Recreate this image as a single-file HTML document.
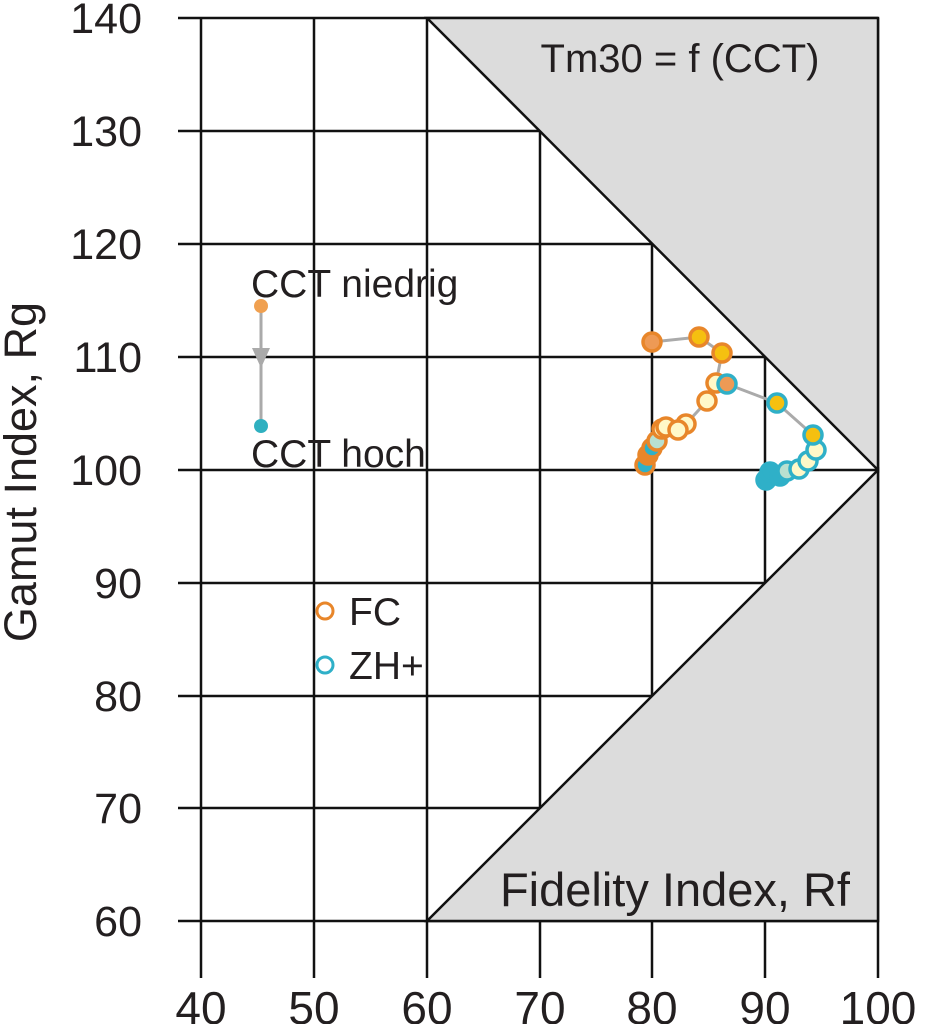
<!DOCTYPE html>
<html><head><style>body{margin:0;background:#fff}svg{display:block}text{font-family:"Liberation Sans",sans-serif;fill:#231f20}</style></head>
<body>
<svg width="930" height="1024" viewBox="0 0 930 1024">
<g stroke="#111" stroke-width="2.5">
<line x1="178" y1="18" x2="878" y2="18"/><line x1="178" y1="131" x2="878" y2="131"/><line x1="178" y1="244" x2="878" y2="244"/><line x1="178" y1="357" x2="878" y2="357"/><line x1="178" y1="470" x2="878" y2="470"/><line x1="178" y1="583" x2="878" y2="583"/><line x1="178" y1="696" x2="878" y2="696"/><line x1="178" y1="808" x2="878" y2="808"/><line x1="178" y1="921" x2="878" y2="921"/>
<line x1="201" y1="18" x2="201" y2="978"/><line x1="314" y1="18" x2="314" y2="978"/><line x1="427" y1="18" x2="427" y2="978"/><line x1="540" y1="18" x2="540" y2="978"/><line x1="652" y1="18" x2="652" y2="978"/><line x1="765" y1="18" x2="765" y2="978"/><line x1="878" y1="18" x2="878" y2="978"/>
</g>
<polygon points="427,18 878,18 878,470" fill="#dcdcdc" stroke="#111" stroke-width="2.5"/>
<polygon points="427,921 878,921 878,470" fill="#dcdcdc" stroke="#111" stroke-width="2.5"/>
<text x="680" y="72" font-size="40" text-anchor="middle">Tm30 = f (CCT)</text>
<text x="850" y="906" font-size="47" text-anchor="end">Fidelity Index, Rf</text>
<g font-size="43" text-anchor="end">
<text x="142" y="33">140</text><text x="142" y="146">130</text><text x="142" y="259">120</text><text x="142" y="372">110</text><text x="142" y="485">100</text><text x="142" y="598">90</text><text x="142" y="711">80</text><text x="142" y="823">70</text><text x="142" y="936">60</text>
</g>
<g font-size="46" text-anchor="middle">
<text x="201" y="1024">40</text><text x="314" y="1024">50</text><text x="427" y="1024">60</text><text x="540" y="1024">70</text><text x="652" y="1024">80</text><text x="765" y="1024">90</text><text x="878" y="1024">100</text>
</g>
<text transform="translate(36,472) rotate(-90)" font-size="45" text-anchor="middle">Gamut Index, Rg</text>
<text x="251" y="297" font-size="39">CCT niedrig</text>
<text x="251" y="467" font-size="39">CCT hoch</text>
<line x1="261" y1="306" x2="261" y2="426" stroke="#aaa" stroke-width="3"/>
<polygon points="252,348 270,348 261,368" fill="#aaa"/>
<circle cx="261" cy="306" r="7" fill="#f0a050"/>
<circle cx="261" cy="426" r="7" fill="#2fb0c0"/>
<circle cx="325" cy="611" r="8" fill="#fff" stroke="#e8862a" stroke-width="3"/>
<text x="349" y="625" font-size="39">FC</text>
<circle cx="325" cy="665" r="8" fill="#fff" stroke="#2fb0c8" stroke-width="3"/>
<text x="349" y="679" font-size="39">ZH+</text>
<polyline points="652,342 699,337 722,353 716,383 707,401 686,424 678,430 662,427 657,441 652,452 648,459 645,465" fill="none" stroke="#aaa" stroke-width="3"/>
<polyline points="727,384 777,403 813,435 816,450 812,459 804,469 787,471 772,477 766,474 764,483" fill="none" stroke="#aaa" stroke-width="3"/>
<g stroke-width="3.5">
<circle cx="645" cy="465" r="9" fill="#2fb0c8" stroke="#e8862a"/>
<circle cx="648" cy="455" r="9" fill="#e8862a" stroke="#e8862a"/>
<circle cx="652" cy="448" r="9" fill="#2fb0c8" stroke="#e8862a"/>
<circle cx="657" cy="441" r="9" fill="#b8e0d0" stroke="#e8862a"/>
<circle cx="662" cy="429" r="9" fill="#fff8c8" stroke="#e8862a"/>
<circle cx="666" cy="427" r="9" fill="#fff8c8" stroke="#e8862a"/>
<circle cx="686" cy="424" r="9" fill="#fff8c8" stroke="#e8862a"/>
<circle cx="678" cy="430" r="9" fill="#fff8c8" stroke="#e8862a"/>
<circle cx="707" cy="401" r="9" fill="#fff8c8" stroke="#e8862a"/>
<circle cx="716" cy="383" r="9" fill="#fff8c8" stroke="#e8862a"/>
<circle cx="722" cy="353" r="9" fill="#f5c010" stroke="#e8862a"/>
<circle cx="699" cy="337" r="9" fill="#f5c010" stroke="#e8862a"/>
<circle cx="652" cy="342" r="9" fill="#ee9a55" stroke="#e8862a"/>
<circle cx="766" cy="480" r="9" fill="#2fb0c8" stroke="#2fb0c8"/>
<circle cx="770" cy="472" r="9" fill="#2fb0c8" stroke="#2fb0c8"/>
<circle cx="780" cy="476" r="9" fill="#2fb0c8" stroke="#2fb0c8"/>
<circle cx="787" cy="471" r="9" fill="#b8e0d0" stroke="#2fb0c8"/>
<circle cx="799" cy="469" r="9" fill="#fff8c8" stroke="#2fb0c8"/>
<circle cx="808" cy="461" r="9" fill="#fff8c8" stroke="#2fb0c8"/>
<circle cx="816" cy="450" r="9" fill="#fff8c8" stroke="#2fb0c8"/>
<circle cx="813" cy="435" r="9" fill="#f5c010" stroke="#2fb0c8"/>
<circle cx="777" cy="403" r="9" fill="#f5c010" stroke="#2fb0c8"/>
<circle cx="727" cy="384" r="9" fill="#ee9a55" stroke="#2fb0c8"/>
</g>
</svg>
</body></html>
